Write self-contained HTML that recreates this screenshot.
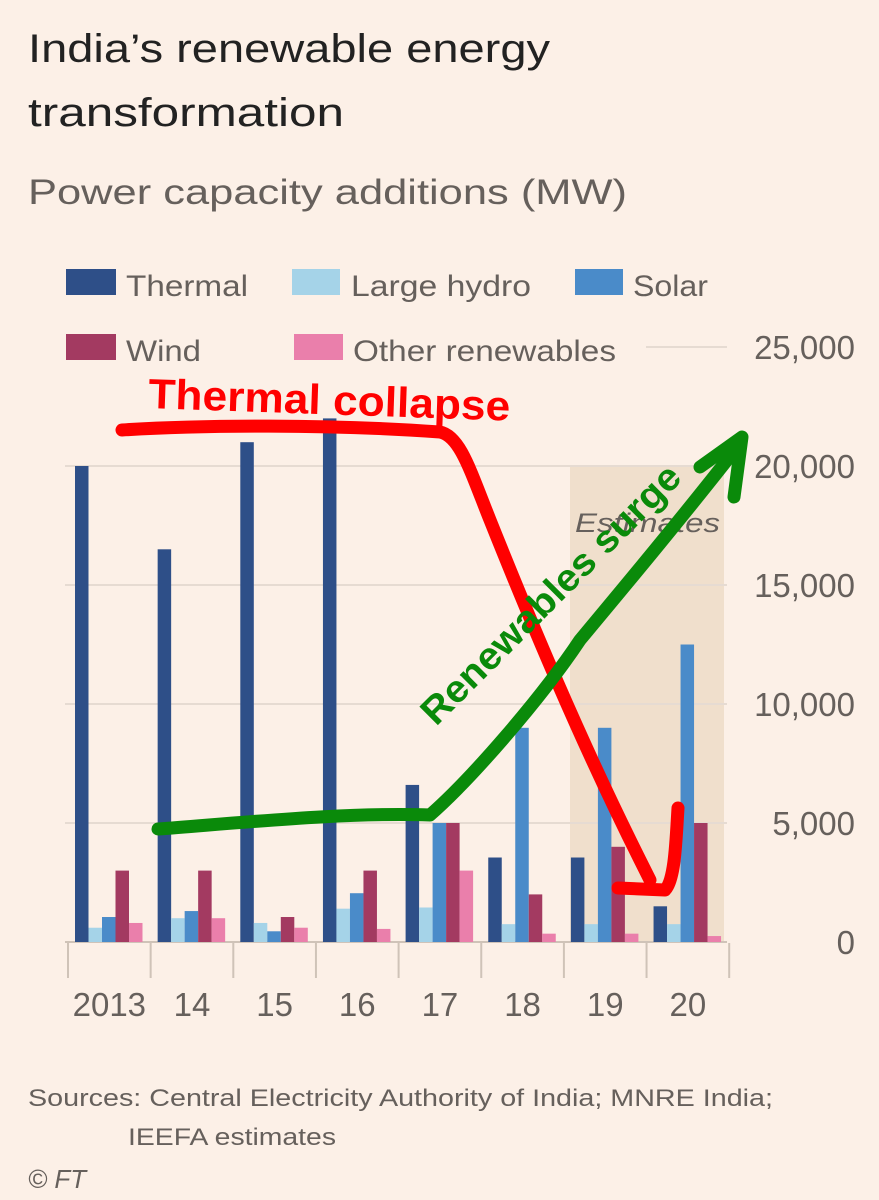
<!DOCTYPE html>
<html><head><meta charset="utf-8">
<style>
body{margin:0;background:#fcf0e7;}
svg{display:block;font-family:"Liberation Sans",sans-serif;}
</style></head>
<body>
<svg id="chart" width="879" height="1200" viewBox="0 0 879 1200">
<rect width="879" height="1200" fill="#fcf0e7"/>
<text x="28" y="62" font-size="40" fill="#222" textLength="522" lengthAdjust="spacingAndGlyphs">India’s renewable energy</text>
<text x="28" y="126" font-size="40" fill="#222" textLength="316" lengthAdjust="spacingAndGlyphs">transformation</text>
<text x="28" y="204" font-size="35" fill="#66605c" textLength="599" lengthAdjust="spacingAndGlyphs">Power capacity additions (MW)</text>
<g id="legend" font-size="30" fill="#66605c">
<rect x="66" y="269" width="50" height="26" fill="#2e4f88"/><text x="126" y="296" textLength="122" lengthAdjust="spacingAndGlyphs">Thermal</text>
<rect x="292" y="269" width="48" height="26" fill="#a5d3e8"/><text x="351" y="296" textLength="180" lengthAdjust="spacingAndGlyphs">Large hydro</text>
<rect x="575" y="269" width="48" height="26" fill="#4a8bc9"/><text x="633" y="296" textLength="75" lengthAdjust="spacingAndGlyphs">Solar</text>
<rect x="66" y="334" width="50" height="26" fill="#a33a61"/><text x="126" y="361" textLength="75" lengthAdjust="spacingAndGlyphs">Wind</text>
<rect x="294" y="334" width="49" height="26" fill="#ea7fab"/><text x="353" y="361" textLength="263" lengthAdjust="spacingAndGlyphs">Other renewables</text>
</g>
<rect x="570" y="466" width="154" height="476" fill="#f0dfcc"/>
<text x="575" y="532" font-size="27" font-style="italic" fill="#66605c" textLength="145" lengthAdjust="spacingAndGlyphs">Estimates</text>
<g id="grid"></g>
<g id="bars"></g>
<g id="xaxis"></g>
<path d="M122,430 C200,425 330,424 440,432 C460,436 470,470 490,520 C530,620 580,740 640,860 L650,880" fill="none" stroke="#f00" stroke-width="13" stroke-linecap="round" stroke-linejoin="round"/>
<path d="M618,888 L665,890 C675,880 676,840 678,808" fill="none" stroke="#f00" stroke-width="13" stroke-linecap="round" stroke-linejoin="round"/>
<text x="148" y="408" font-size="42" font-weight="bold" fill="#f00" textLength="362" lengthAdjust="spacingAndGlyphs" transform="rotate(2 148 408)">Thermal collapse</text>
<path d="M158,829 C250,822 350,812 430,815 C470,780 540,700 580,640 C630,580 680,520 735,450" fill="none" stroke="#0a8a0a" stroke-width="13" stroke-linecap="round" stroke-linejoin="round"/>
<path d="M700,467 L742,437 L734,497" fill="none" stroke="#0a8a0a" stroke-width="13" stroke-linecap="round" stroke-linejoin="round"/>
<text x="436" y="727" font-size="38" font-weight="bold" fill="#0a8a0a" textLength="350" lengthAdjust="spacingAndGlyphs" transform="rotate(-45 436 727)">Renewables surge</text>
<text x="28" y="1106" font-size="24" fill="#66605c" textLength="745" lengthAdjust="spacingAndGlyphs">Sources: Central Electricity Authority of India; MNRE India;</text>
<text x="128" y="1145" font-size="24" fill="#66605c" textLength="208" lengthAdjust="spacingAndGlyphs">IEEFA estimates</text>
<text x="28" y="1188" font-size="26" font-style="italic" fill="#66605c">© FT</text>
</svg>
<script>
const years=["2013","14","15","16","17","18","19","20"];
const thermal=[20000,16500,21000,22000,6600,3550,3550,1500];
const hydro=[600,1000,800,1400,1450,750,750,750];
const solar=[1050,1300,450,2050,5000,9000,9000,12500];
const wind=[3000,3000,1050,3000,5000,2000,4000,5000];
const other=[800,1000,600,550,3000,350,350,250];
const yTicks=[0,5000,10000,15000,20000,25000];
const tickLabels=["0","5,000","10,000","15,000","20,000","25,000"];
const NS="http://www.w3.org/2000/svg";
const y0=942,pxPer=119/5000,x0=68,gw=82.65;
const y=v=>y0-v*pxPer;
const grid=document.getElementById('grid');
yTicks.forEach((t,i)=>{
  const l=document.createElementNS(NS,'line');
  l.setAttribute('x1',i==5?646:65);l.setAttribute('x2',727);
  l.setAttribute('y1',y(t));l.setAttribute('y2',y(t));
  l.setAttribute('stroke',i==0?'#cfc3b8':'#e6dbd2');l.setAttribute('stroke-width',2);
  
  
  grid.appendChild(l);
  const tx=document.createElementNS(NS,'text');
  tx.setAttribute('x',855);tx.setAttribute('y',y(t)+12);tx.setAttribute('text-anchor','end');
  tx.setAttribute('font-size',33);tx.setAttribute('fill','#66605c');tx.textContent=tickLabels[i];
  
  
  grid.appendChild(tx);
});
const series=[[thermal,'#2e4f88','thermal'],[hydro,'#a5d3e8','hydro'],[solar,'#4a8bc9','solar'],[wind,'#a33a61','wind'],[other,'#ea7fab','other']];
const bars=document.getElementById('bars');
years.forEach((yr,g)=>{
  series.forEach((s,k)=>{
    const r=document.createElementNS(NS,'rect');
    const v=s[0][g];
    r.setAttribute('x',x0+g*gw+7+k*13.5);r.setAttribute('width',13.5);
    r.setAttribute('y',y(v));r.setAttribute('height',v*pxPer);r.setAttribute('fill',s[1]);
    
    
    bars.appendChild(r);
  });
});
const xa=document.getElementById('xaxis');
for(let i=0;i<=years.length;i++){
  const l=document.createElementNS(NS,'line');
  l.setAttribute('x1',x0+i*gw);l.setAttribute('x2',x0+i*gw);l.setAttribute('y1',943);l.setAttribute('y2',978);
  l.setAttribute('stroke','#cfc3b8');l.setAttribute('stroke-width',2);
  
  
  xa.appendChild(l);
}
years.forEach((yr,g)=>{
  const tx=document.createElementNS(NS,'text');
  tx.setAttribute('x',x0+g*gw+gw/2);tx.setAttribute('y',1016);tx.setAttribute('text-anchor','middle');
  tx.setAttribute('font-size',33);tx.setAttribute('fill','#66605c');tx.textContent=yr;
  
  
  xa.appendChild(tx);
});
</script>
</body></html>
